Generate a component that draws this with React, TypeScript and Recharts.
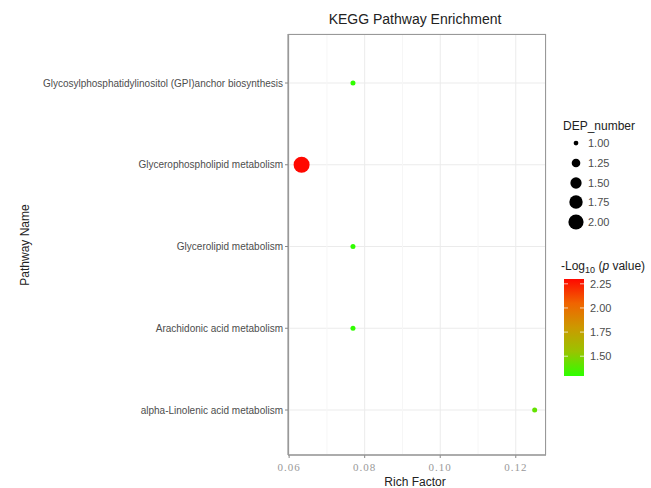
import React from "react";
import {
  ScatterChart, Scatter, XAxis, YAxis, CartesianGrid, ReferenceLine, Cell,
} from "recharts";

const pathways = [
  "Glycosylphosphatidylinositol (GPI)anchor biosynthesis",
  "Glycerophospholipid metabolism",
  "Glycerolipid metabolism",
  "Arachidonic acid metabolism",
  "alpha-Linolenic acid metabolism",
];
const richFactor = [0.0769, 0.0633, 0.0769, 0.0769, 0.125];
const depNumber = [1, 2, 1, 1, 1];
const negLogP = [1.3, 2.3, 1.3, 1.3, 1.42];

const xTicks = [0.06, 0.08, 0.1, 0.12];
const xMinor = [0.07, 0.09, 0.11];
const sizeBreaks = [1, 1.25, 1.5, 1.75, 2];
const colorBreaks = [2.25, 2.0, 1.75, 1.5];

const P_MIN = 1.295;
const P_MAX = 2.3;

const stops = [
  [0, [46, 255, 0]],
  [0.25, [153, 196, 0]],
  [0.5, [204, 153, 0]],
  [0.75, [240, 100, 0]],
  [1, [255, 8, 0]],
] as [number, number[]][];

function colorFor(v: number) {
  const t = Math.max(0, Math.min(1, (v - P_MIN) / (P_MAX - P_MIN)));
  for (let i = 1; i < stops.length; i++) {
    if (t <= stops[i][0]) {
      const [t0, c0] = stops[i - 1];
      const [t1, c1] = stops[i];
      const f = (t - t0) / (t1 - t0);
      const c = c0.map((a, k) => Math.round(a + (c1[k] - a) * f));
      return `rgb(${c[0]},${c[1]},${c[2]})`;
    }
  }
  return "rgb(255,8,0)";
}

const radiusFor = (n: number) => Math.sqrt(6.25 + 57.75 * (n - 1));

const data = pathways.map((name, i) => ({
  name,
  rich: richFactor[i],
  dep: depNumber[i],
  p: negLogP[i],
}));

const sans = "'Liberation Sans', Arial, sans-serif";

const Dot = (props: any) => {
  const { cx, cy, payload } = props;
  return <circle cx={cx} cy={cy} r={radiusFor(payload.dep)} fill={colorFor(payload.p)} />;
};

const PathTick = (props: any) => {
  const { x, y, payload } = props;
  return (
    <text x={x} y={y} dy={3.5} textAnchor="end" fontSize={10} fontFamily={sans} fill="#4d4d4d">
      {payload.value}
    </text>
  );
};

export default function App() {
  const barTop = 279;
  const barH = 97;
  const barY = (v: number) => barTop + barH - ((v - P_MIN) / (P_MAX - P_MIN)) * barH;
  const legendYs = [143, 163, 183, 202, 222];

  return (
    <div style={{ position: "absolute", left: 0, top: 0, width: 651, height: 488, background: "#fff" }}>
      <ScatterChart width={651} height={488} margin={{ top: 34, right: 105, bottom: 0, left: 0 }}>
        <CartesianGrid stroke="#ebebeb" />
        {xMinor.map((v) => (
          <ReferenceLine key={v} x={v} stroke="#f6f6f6" />
        ))}
        <XAxis
          type="number"
          dataKey="rich"
          domain={[0.0597, 0.128]}
          ticks={xTicks}
          tickFormatter={(v: number) => v.toFixed(2)}
          height={33}
          tickSize={3}
          tickMargin={5}
          allowDataOverflow
          stroke="#888"
          tick={{ fill: "#999", fontSize: 11, fontFamily: "'Liberation Serif', serif", letterSpacing: 1 }}
        />
        <YAxis
          type="category"
          dataKey="name"
          ticks={pathways}
          allowDuplicatedCategory={false}
          scale="point"
          reversed
          width={288}
          padding={{ top: 49, bottom: 45 }}
          tickSize={3}
          tickMargin={2}
          stroke="#888"
          tick={<PathTick />}
        />
        <Scatter data={data} isAnimationActive={false} shape={<Dot />}>
          {data.map((d, i) => (
            <Cell key={i} fill={colorFor(d.p)} />
          ))}
        </Scatter>
      </ScatterChart>
      <svg width={651} height={488} style={{ position: "absolute", left: 0, top: 0, pointerEvents: "none" }}>
        <rect x={288.5} y={34.5} width={257} height={420.5} fill="none" stroke="#999" />
        <text x={415} y={24} textAnchor="middle" fontSize={14} fontFamily={sans} fill="#222">
          KEGG Pathway Enrichment
        </text>
        <text x={415} y={486} textAnchor="middle" fontSize={12} fontFamily={sans} fill="#222">
          Rich Factor
        </text>
        <text
          x={0}
          y={0}
          transform="translate(29,245) rotate(-90)"
          textAnchor="middle"
          fontSize={12}
          fontFamily={sans}
          fill="#222"
        >
          Pathway Name
        </text>
        <text x={563} y={130} fontSize={12} fontFamily={sans} fill="#222">
          DEP_number
        </text>
        {sizeBreaks.map((b, i) => (
          <g key={b}>
            <circle cx={576} cy={legendYs[i]} r={radiusFor(b) * 0.95} fill="#000" />
            <text x={588} y={legendYs[i] + 4} fontSize={11} fontFamily={sans} fill="#4d4d4d">
              {b.toFixed(2)}
            </text>
          </g>
        ))}
        <text x={561} y={270} fontSize={12} fontFamily={sans} fill="#222">
          -Log
          <tspan fontSize={9} dy={3}>10</tspan>
          <tspan dy={-3}> (</tspan>
          <tspan fontStyle="italic">p</tspan> value)
        </text>
        <defs>
          <linearGradient id="pbar" x1="0" y1="1" x2="0" y2="0">
            {stops.map(([t, c]) => (
              <stop key={t} offset={t} stopColor={`rgb(${c[0]},${c[1]},${c[2]})`} />
            ))}
          </linearGradient>
        </defs>
        <rect x={564} y={barTop} width={20} height={barH} fill="url(#pbar)" />
        {colorBreaks.map((b) => (
          <g key={b}>
            <line x1={564} x2={568} y1={barY(b)} y2={barY(b)} stroke="#fff" strokeOpacity={0.7} />
            <line x1={580} x2={584} y1={barY(b)} y2={barY(b)} stroke="#fff" strokeOpacity={0.7} />
            <text x={590} y={barY(b) + 4} fontSize={11} fontFamily={sans} fill="#4d4d4d">
              {b.toFixed(2)}
            </text>
          </g>
        ))}
      </svg>
    </div>
  );
}
